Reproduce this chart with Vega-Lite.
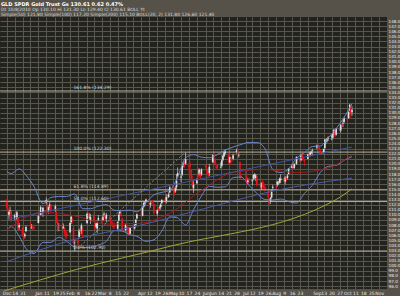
{
"$schema": "https://vega.github.io/schema/vega-lite/v6.json",
"width": 387, "height": 272,
"autosize": {"type": "none"},
"padding": {"left": 0, "top": 17, "right": 13, "bottom": 7},
"background": "#56524a",
"config": {"view": {"fill": "#23231d", "stroke": null},
  "axis": {"labelFont": "DejaVu Sans", "labelFontSize": 4.5, "labelColor": "#e8e8e8", "ticks": false, "domain": false, "gridColor": "#58574e", "gridWidth": 1, "gridOpacity": 1, "title": null, "labelPadding": 1, "labelOverlap": false}},
"title": {"text": "GLD SPDR Gold Trust Gs  130.61  0.62  0.47%", "subtitle": ["Dt 10/8/2010 Op 130.10 Hi 131.30 Lo 129.40 Cl 130.61                  BOLL      Yt", "Simple(50) 121.80  Simple(100) 117.20  Simple(200) 115.10  BOLL(20, 2) 131.80 126.60 121.40"], "anchor": "start", "frame": "group", "offset": 0.5, "fontSize": 5, "subtitleFontSize": 4.5, "color": "#ffffff", "subtitleColor": "#dcdcdc", "font": "DejaVu Sans", "subtitleFont": "DejaVu Sans", "fontWeight": "bold", "subtitlePadding": 0.5, "subtitleLineHeight": 4.8, "dx": 1},
"datasets": {
"ohlc": [
{"d":"2009-12-07","o":112.6,"h":113.2,"l":111.0,"c":111.4},
{"d":"2009-12-08","o":111.3,"h":111.7,"l":109.6,"c":110.1},
{"d":"2009-12-09","o":110.0,"h":110.9,"l":109.2,"c":110.6},
{"d":"2009-12-10","o":110.8,"h":111.6,"l":110.2,"c":110.9},
{"d":"2009-12-11","o":110.7,"h":110.9,"l":108.6,"c":109.0},
{"d":"2009-12-14","o":109.2,"h":110.2,"l":108.9,"c":109.9},
{"d":"2009-12-15","o":109.5,"h":110.0,"l":108.2,"c":108.7},
{"d":"2009-12-16","o":109.2,"h":110.8,"l":109.0,"c":110.5},
{"d":"2009-12-17","o":109.4,"h":109.6,"l":106.8,"c":107.1},
{"d":"2009-12-18","o":107.5,"h":108.4,"l":107.0,"c":108.0},
{"d":"2009-12-21","o":107.5,"h":107.7,"l":105.7,"c":105.9},
{"d":"2009-12-22","o":105.8,"h":106.0,"l":104.7,"c":105.3},
{"d":"2009-12-23","o":105.8,"h":106.5,"l":105.4,"c":106.2},
{"d":"2009-12-24","o":106.8,"h":107.9,"l":106.6,"c":107.6},
{"d":"2009-12-28","o":108.0,"h":108.8,"l":107.6,"c":107.8},
{"d":"2009-12-29","o":107.5,"h":108.2,"l":107.2,"c":107.6},
{"d":"2009-12-30","o":107.7,"h":108.0,"l":107.0,"c":107.3},
{"d":"2009-12-31","o":107.6,"h":108.1,"l":107.0,"c":107.3},
{"d":"2010-01-04","o":108.4,"h":110.0,"l":108.3,"c":109.8},
{"d":"2010-01-05","o":110.1,"h":110.6,"l":109.3,"c":109.7},
{"d":"2010-01-06","o":110.0,"h":111.8,"l":109.9,"c":111.5},
{"d":"2010-01-07","o":111.2,"h":111.4,"l":110.1,"c":110.8},
{"d":"2010-01-08","o":110.4,"h":111.6,"l":109.6,"c":111.4},
{"d":"2010-01-11","o":112.4,"h":113.4,"l":112.0,"c":112.9},
{"d":"2010-01-12","o":112.2,"h":112.4,"l":110.4,"c":110.5},
{"d":"2010-01-13","o":110.8,"h":111.8,"l":110.2,"c":111.5},
{"d":"2010-01-14","o":111.7,"h":112.5,"l":111.3,"c":112.0},
{"d":"2010-01-15","o":111.9,"h":112.1,"l":110.2,"c":110.9},
{"d":"2010-01-19","o":111.0,"h":112.0,"l":110.6,"c":111.7},
{"d":"2010-01-20","o":110.6,"h":110.8,"l":108.3,"c":108.6},
{"d":"2010-01-21","o":108.6,"h":109.4,"l":106.6,"c":107.0},
{"d":"2010-01-22","o":107.5,"h":108.4,"l":106.8,"c":107.5},
{"d":"2010-01-25","o":107.6,"h":108.4,"l":107.2,"c":107.5},
{"d":"2010-01-26","o":107.3,"h":108.3,"l":107.2,"c":107.7},
{"d":"2010-01-27","o":107.5,"h":107.6,"l":105.8,"c":106.4},
{"d":"2010-01-28","o":106.2,"h":107.0,"l":105.2,"c":105.7},
{"d":"2010-01-29","o":106.5,"h":106.9,"l":105.3,"c":106.0},
{"d":"2010-02-01","o":106.6,"h":108.6,"l":106.4,"c":108.4},
{"d":"2010-02-02","o":108.6,"h":109.9,"l":108.2,"c":109.6},
{"d":"2010-02-03","o":109.2,"h":109.6,"l":108.3,"c":108.9},
{"d":"2010-02-04","o":107.5,"h":107.8,"l":104.1,"c":104.4},
{"d":"2010-02-05","o":104.5,"h":105.2,"l":102.9,"c":104.6},
{"d":"2010-02-08","o":104.9,"h":105.5,"l":104.0,"c":104.4},
{"d":"2010-02-09","o":105.7,"h":107.3,"l":105.5,"c":106.9},
{"d":"2010-02-10","o":106.8,"h":107.0,"l":106.0,"c":106.6},
{"d":"2010-02-11","o":106.8,"h":108.3,"l":106.2,"c":107.9},
{"d":"2010-02-12","o":107.3,"h":107.6,"l":105.6,"c":106.7},
{"d":"2010-02-16","o":108.4,"h":110.4,"l":108.2,"c":110.2},
{"d":"2010-02-17","o":109.9,"h":110.6,"l":109.4,"c":109.8},
{"d":"2010-02-18","o":109.5,"h":110.3,"l":109.1,"c":109.6},
{"d":"2010-02-19","o":108.9,"h":110.2,"l":108.2,"c":109.6},
{"d":"2010-02-22","o":109.9,"h":110.4,"l":108.7,"c":108.9},
{"d":"2010-02-23","o":108.4,"h":108.8,"l":106.9,"c":107.3},
{"d":"2010-02-24","o":107.6,"h":108.6,"l":107.3,"c":108.3},
{"d":"2010-02-25","o":107.3,"h":108.7,"l":106.4,"c":108.5},
{"d":"2010-02-26","o":109.0,"h":110.0,"l":108.8,"c":109.4},
{"d":"2010-03-01","o":109.4,"h":109.8,"l":108.3,"c":108.5},
{"d":"2010-03-02","o":109.0,"h":110.0,"l":108.8,"c":109.5},
{"d":"2010-03-03","o":110.0,"h":110.6,"l":109.6,"c":110.2},
{"d":"2010-03-04","o":110.0,"h":110.0,"l":108.8,"c":109.3},
{"d":"2010-03-05","o":109.2,"h":110.4,"l":108.5,"c":110.0},
{"d":"2010-03-08","o":109.7,"h":109.9,"l":108.6,"c":108.8},
{"d":"2010-03-09","o":108.7,"h":109.1,"l":107.9,"c":108.4},
{"d":"2010-03-10","o":108.6,"h":108.9,"l":107.8,"c":108.3},
{"d":"2010-03-11","o":107.9,"h":108.4,"l":107.2,"c":107.6},
{"d":"2010-03-12","o":107.8,"h":108.5,"l":107.3,"c":107.6},
{"d":"2010-03-15","o":107.3,"h":108.7,"l":107.0,"c":108.6},
{"d":"2010-03-16","o":108.9,"h":110.2,"l":108.7,"c":110.0},
{"d":"2010-03-17","o":110.2,"h":110.8,"l":109.9,"c":110.6},
{"d":"2010-03-18","o":110.4,"h":110.6,"l":109.6,"c":110.0},
{"d":"2010-03-19","o":109.3,"h":109.5,"l":106.9,"c":107.2},
{"d":"2010-03-22","o":107.0,"h":108.3,"l":106.7,"c":108.0},
{"d":"2010-03-23","o":108.0,"h":108.3,"l":107.5,"c":107.9},
{"d":"2010-03-24","o":107.6,"h":107.8,"l":106.1,"c":106.5},
{"d":"2010-03-25","o":106.9,"h":107.6,"l":105.9,"c":106.0},
{"d":"2010-03-26","o":106.3,"h":107.6,"l":106.2,"c":107.4},
{"d":"2010-03-29","o":107.5,"h":107.9,"l":107.0,"c":107.2},
{"d":"2010-03-30","o":107.3,"h":108.2,"l":107.1,"c":107.9},
{"d":"2010-03-31","o":108.0,"h":109.2,"l":107.9,"c":109.0},
{"d":"2010-04-01","o":109.3,"h":110.3,"l":109.1,"c":110.1},
{"d":"2010-04-05","o":110.5,"h":110.7,"l":109.4,"c":110.0},
{"d":"2010-04-06","o":109.8,"h":111.6,"l":109.7,"c":111.4},
{"d":"2010-04-07","o":111.6,"h":112.5,"l":111.3,"c":112.3},
{"d":"2010-04-08","o":112.0,"h":112.7,"l":111.7,"c":112.4},
{"d":"2010-04-09","o":112.6,"h":113.2,"l":112.3,"c":113.0},
{"d":"2010-04-12","o":112.8,"h":113.0,"l":111.8,"c":112.0},
{"d":"2010-04-13","o":112.0,"h":112.6,"l":111.4,"c":112.3},
{"d":"2010-04-14","o":112.6,"h":112.9,"l":112.1,"c":112.5},
{"d":"2010-04-15","o":112.7,"h":112.9,"l":112.0,"c":112.4},
{"d":"2010-04-16","o":112.1,"h":112.3,"l":109.9,"c":110.3},
{"d":"2010-04-19","o":110.2,"h":111.1,"l":109.8,"c":110.9},
{"d":"2010-04-20","o":111.3,"h":111.5,"l":110.6,"c":111.0},
{"d":"2010-04-21","o":111.4,"h":111.8,"l":111.0,"c":111.5},
{"d":"2010-04-22","o":111.5,"h":112.3,"l":111.0,"c":112.0},
{"d":"2010-04-23","o":112.3,"h":113.1,"l":112.0,"c":112.9},
{"d":"2010-04-26","o":113.1,"h":113.4,"l":112.3,"c":112.7},
{"d":"2010-04-27","o":112.7,"h":114.0,"l":112.2,"c":113.5},
{"d":"2010-04-28","o":113.8,"h":114.1,"l":113.0,"c":113.5},
{"d":"2010-04-29","o":113.5,"h":114.4,"l":113.3,"c":114.0},
{"d":"2010-04-30","o":114.4,"h":115.6,"l":114.2,"c":115.4},
{"d":"2010-05-03","o":115.7,"h":116.3,"l":115.1,"c":115.6},
{"d":"2010-05-04","o":115.2,"h":115.5,"l":113.7,"c":114.2},
{"d":"2010-05-05","o":114.6,"h":115.6,"l":114.3,"c":115.2},
{"d":"2010-05-06","o":115.4,"h":118.0,"l":114.9,"c":116.7},
{"d":"2010-05-07","o":117.6,"h":119.3,"l":117.2,"c":118.2},
{"d":"2010-05-10","o":117.3,"h":118.1,"l":116.4,"c":117.5},
{"d":"2010-05-11","o":117.9,"h":119.8,"l":117.6,"c":119.6},
{"d":"2010-05-12","o":119.8,"h":120.4,"l":119.3,"c":120.1},
{"d":"2010-05-13","o":120.3,"h":120.5,"l":119.2,"c":119.6},
{"d":"2010-05-14","o":120.0,"h":122.3,"l":119.8,"c":120.9},
{"d":"2010-05-17","o":119.6,"h":120.2,"l":118.2,"c":119.4},
{"d":"2010-05-18","o":119.8,"h":120.5,"l":118.9,"c":119.5},
{"d":"2010-05-19","o":118.9,"h":119.0,"l":116.8,"c":117.1},
{"d":"2010-05-20","o":116.7,"h":117.7,"l":115.3,"c":115.6},
{"d":"2010-05-21","o":115.2,"h":116.6,"l":114.3,"c":115.9},
{"d":"2010-05-24","o":116.2,"h":117.2,"l":116.0,"c":116.8},
{"d":"2010-05-25","o":118.1,"h":119.3,"l":116.8,"c":117.4},
{"d":"2010-05-26","o":117.9,"h":119.1,"l":117.6,"c":118.9},
{"d":"2010-05-27","o":118.3,"h":118.4,"l":116.8,"c":117.2},
{"d":"2010-05-28","o":117.9,"h":119.1,"l":117.6,"c":118.9},
{"d":"2010-06-01","o":119.8,"h":120.0,"l":118.6,"c":119.3},
{"d":"2010-06-02","o":119.0,"h":119.2,"l":117.8,"c":118.2},
{"d":"2010-06-03","o":118.3,"h":118.6,"l":117.3,"c":117.8},
{"d":"2010-06-04","o":118.2,"h":120.0,"l":117.6,"c":119.4},
{"d":"2010-06-07","o":120.3,"h":121.9,"l":120.2,"c":121.7},
{"d":"2010-06-08","o":121.9,"h":122.2,"l":121.0,"c":121.8},
{"d":"2010-06-09","o":121.0,"h":121.2,"l":119.6,"c":119.9},
{"d":"2010-06-10","o":119.5,"h":120.1,"l":118.8,"c":119.2},
{"d":"2010-06-11","o":119.8,"h":120.0,"l":118.9,"c":119.1},
{"d":"2010-06-14","o":119.3,"h":120.3,"l":119.1,"c":119.4},
{"d":"2010-06-15","o":119.6,"h":120.9,"l":119.3,"c":120.7},
{"d":"2010-06-16","o":120.8,"h":121.8,"l":120.5,"c":121.6},
{"d":"2010-06-17","o":121.5,"h":122.4,"l":121.3,"c":122.2},
{"d":"2010-06-18","o":122.1,"h":122.8,"l":121.8,"c":122.4},
{"d":"2010-06-21","o":121.8,"h":122.2,"l":119.9,"c":120.3},
{"d":"2010-06-22","o":120.3,"h":121.5,"l":120.1,"c":121.3},
{"d":"2010-06-23","o":121.0,"h":121.1,"l":119.8,"c":120.6},
{"d":"2010-06-24","o":121.0,"h":121.4,"l":120.3,"c":120.8},
{"d":"2010-06-25","o":121.0,"h":122.0,"l":120.7,"c":121.7},
{"d":"2010-06-28","o":122.3,"h":123.0,"l":122.0,"c":122.6},
{"d":"2010-06-29","o":122.5,"h":123.2,"l":121.5,"c":121.9},
{"d":"2010-06-30","o":121.6,"h":122.3,"l":121.2,"c":121.7},
{"d":"2010-07-01","o":120.3,"h":120.5,"l":116.9,"c":117.2},
{"d":"2010-07-02","o":117.6,"h":118.0,"l":117.1,"c":117.4},
{"d":"2010-07-06","o":118.0,"h":118.6,"l":117.0,"c":117.9},
{"d":"2010-07-07","o":117.5,"h":117.6,"l":115.7,"c":116.0},
{"d":"2010-07-08","o":116.4,"h":117.2,"l":116.0,"c":116.8},
{"d":"2010-07-09","o":117.0,"h":117.3,"l":116.2,"c":116.8},
{"d":"2010-07-12","o":116.6,"h":117.0,"l":115.8,"c":116.8},
{"d":"2010-07-13","o":117.1,"h":118.0,"l":116.8,"c":117.8},
{"d":"2010-07-14","o":117.5,"h":118.2,"l":117.0,"c":117.9},
{"d":"2010-07-15","o":117.2,"h":118.0,"l":116.6,"c":117.7},
{"d":"2010-07-16","o":117.5,"h":117.6,"l":115.5,"c":115.8},
{"d":"2010-07-19","o":115.8,"h":116.3,"l":115.2,"c":115.7},
{"d":"2010-07-20","o":115.4,"h":116.4,"l":114.9,"c":116.2},
{"d":"2010-07-21","o":116.5,"h":116.8,"l":115.0,"c":115.4},
{"d":"2010-07-22","o":116.0,"h":116.5,"l":115.1,"c":115.3},
{"d":"2010-07-23","o":115.5,"h":115.9,"l":114.6,"c":115.1},
{"d":"2010-07-26","o":114.5,"h":114.9,"l":113.1,"c":113.4},
{"d":"2010-07-27","o":112.9,"h":113.0,"l":111.8,"c":112.2},
{"d":"2010-07-28","o":112.6,"h":113.5,"l":112.1,"c":113.3},
{"d":"2010-07-29","o":113.4,"h":115.0,"l":113.2,"c":114.5},
{"d":"2010-07-30","o":115.3,"h":115.9,"l":114.8,"c":115.5},
{"d":"2010-08-02","o":115.6,"h":116.0,"l":115.0,"c":115.5},
{"d":"2010-08-03","o":115.9,"h":116.7,"l":115.5,"c":116.5},
{"d":"2010-08-04","o":116.2,"h":116.6,"l":115.8,"c":116.3},
{"d":"2010-08-05","o":116.3,"h":117.3,"l":116.1,"c":117.1},
{"d":"2010-08-06","o":116.8,"h":118.0,"l":116.2,"c":117.1},
{"d":"2010-08-09","o":117.2,"h":117.4,"l":116.3,"c":116.6},
{"d":"2010-08-10","o":116.5,"h":117.6,"l":115.9,"c":117.3},
{"d":"2010-08-11","o":117.3,"h":117.4,"l":116.5,"c":116.9},
{"d":"2010-08-12","o":117.2,"h":118.0,"l":116.9,"c":117.7},
{"d":"2010-08-13","o":118.0,"h":119.2,"l":117.9,"c":119.1},
{"d":"2010-08-16","o":119.2,"h":120.0,"l":119.1,"c":119.6},
{"d":"2010-08-17","o":119.7,"h":120.0,"l":118.8,"c":119.3},
{"d":"2010-08-18","o":119.2,"h":120.1,"l":119.0,"c":120.0},
{"d":"2010-08-19","o":120.1,"h":120.3,"l":119.6,"c":120.0},
{"d":"2010-08-20","o":120.0,"h":121.4,"l":119.8,"c":121.4},
{"d":"2010-08-23","o":121.2,"h":121.5,"l":120.2,"c":120.5},
{"d":"2010-08-24","o":120.7,"h":122.0,"l":120.5,"c":121.8},
{"d":"2010-08-25","o":121.9,"h":122.5,"l":120.9,"c":121.0},
{"d":"2010-08-26","o":121.1,"h":121.5,"l":120.6,"c":120.9},
{"d":"2010-08-27","o":120.8,"h":121.0,"l":119.6,"c":120.6},
{"d":"2010-08-30","o":121.0,"h":122.0,"l":120.9,"c":121.9},
{"d":"2010-08-31","o":121.8,"h":122.2,"l":121.3,"c":121.7},
{"d":"2010-09-01","o":121.8,"h":122.5,"l":121.4,"c":122.2},
{"d":"2010-09-02","o":122.1,"h":122.6,"l":121.9,"c":122.4},
{"d":"2010-09-03","o":122.6,"h":123.0,"l":121.8,"c":122.7},
{"d":"2010-09-07","o":123.2,"h":123.8,"l":122.9,"c":123.6},
{"d":"2010-09-08","o":123.6,"h":124.0,"l":123.0,"c":123.5},
{"d":"2010-09-09","o":123.2,"h":123.3,"l":122.2,"c":122.8},
{"d":"2010-09-10","o":122.6,"h":122.9,"l":121.8,"c":121.9},
{"d":"2010-09-13","o":122.3,"h":123.0,"l":122.0,"c":122.9},
{"d":"2010-09-14","o":123.1,"h":124.9,"l":122.9,"c":124.7},
{"d":"2010-09-15","o":124.4,"h":124.9,"l":124.0,"c":124.6},
{"d":"2010-09-16","o":124.6,"h":125.1,"l":124.2,"c":124.9},
{"d":"2010-09-17","o":125.0,"h":125.4,"l":124.5,"c":125.2},
{"d":"2010-09-20","o":125.3,"h":125.7,"l":124.6,"c":125.4},
{"d":"2010-09-21","o":125.1,"h":126.0,"l":124.8,"c":125.9},
{"d":"2010-09-22","o":126.0,"h":126.8,"l":125.7,"c":126.7},
{"d":"2010-09-23","o":126.6,"h":126.9,"l":125.2,"c":125.4},
{"d":"2010-09-24","o":125.7,"h":127.0,"l":125.5,"c":126.9},
{"d":"2010-09-27","o":126.9,"h":127.2,"l":126.4,"c":126.7},
{"d":"2010-09-28","o":126.5,"h":127.8,"l":126.1,"c":127.6},
{"d":"2010-09-29","o":127.8,"h":128.0,"l":127.1,"c":127.6},
{"d":"2010-09-30","o":127.8,"h":128.7,"l":127.2,"c":127.9},
{"d":"2010-10-01","o":128.2,"h":129.2,"l":128.0,"c":128.9},
{"d":"2010-10-04","o":128.7,"h":128.8,"l":127.9,"c":128.5},
{"d":"2010-10-05","o":129.0,"h":130.3,"l":128.8,"c":130.2},
{"d":"2010-10-06","o":130.5,"h":131.7,"l":130.3,"c":131.6},
{"d":"2010-10-07","o":131.4,"h":131.6,"l":128.8,"c":129.9},
{"d":"2010-10-08","o":130.1,"h":131.3,"l":129.4,"c":130.61}
],
"lines": [
{"s":"bbU","d":"2009-12-07","v":118.5},{"s":"bbU","d":"2009-12-11","v":118.1},{"s":"bbU","d":"2009-12-18","v":119.0},{"s":"bbU","d":"2009-12-24","v":117.8},{"s":"bbU","d":"2009-12-31","v":115.6},{"s":"bbU","d":"2010-01-08","v":112.2},{"s":"bbU","d":"2010-01-15","v":113.4},{"s":"bbU","d":"2010-01-22","v":113.6},{"s":"bbU","d":"2010-01-29","v":113.6},{"s":"bbU","d":"2010-02-05","v":114.1},{"s":"bbU","d":"2010-02-12","v":111.2},{"s":"bbU","d":"2010-02-19","v":111.2},{"s":"bbU","d":"2010-02-26","v":111.7},{"s":"bbU","d":"2010-03-05","v":112.0},{"s":"bbU","d":"2010-03-12","v":110.9},{"s":"bbU","d":"2010-03-19","v":110.8},{"s":"bbU","d":"2010-03-26","v":110.9},{"s":"bbU","d":"2010-04-01","v":110.6},{"s":"bbU","d":"2010-04-09","v":112.4},{"s":"bbU","d":"2010-04-16","v":113.9},{"s":"bbU","d":"2010-04-23","v":114.4},{"s":"bbU","d":"2010-04-30","v":114.8},{"s":"bbU","d":"2010-05-07","v":117.4},{"s":"bbU","d":"2010-05-14","v":121.2},{"s":"bbU","d":"2010-05-21","v":121.8},{"s":"bbU","d":"2010-05-28","v":121.3},{"s":"bbU","d":"2010-06-04","v":121.2},{"s":"bbU","d":"2010-06-11","v":121.8},{"s":"bbU","d":"2010-06-18","v":122.7},{"s":"bbU","d":"2010-06-25","v":123.3},{"s":"bbU","d":"2010-07-02","v":123.8},{"s":"bbU","d":"2010-07-09","v":124.2},{"s":"bbU","d":"2010-07-16","v":124.2},{"s":"bbU","d":"2010-07-23","v":123.0},{"s":"bbU","d":"2010-07-30","v":118.9},{"s":"bbU","d":"2010-08-06","v":118.3},{"s":"bbU","d":"2010-08-13","v":119.0},{"s":"bbU","d":"2010-08-20","v":121.1},{"s":"bbU","d":"2010-08-27","v":122.2},{"s":"bbU","d":"2010-09-03","v":123.4},{"s":"bbU","d":"2010-09-10","v":123.5},{"s":"bbU","d":"2010-09-17","v":125.1},{"s":"bbU","d":"2010-09-24","v":126.9},{"s":"bbU","d":"2010-10-01","v":129.1},{"s":"bbU","d":"2010-10-08","v":131.8},
{"s":"bbL","d":"2009-12-07","v":107.0},{"s":"bbL","d":"2009-12-11","v":107.7},{"s":"bbL","d":"2009-12-18","v":105.8},{"s":"bbL","d":"2009-12-24","v":103.4},{"s":"bbL","d":"2009-12-31","v":102.4},{"s":"bbL","d":"2010-01-08","v":104.6},{"s":"bbL","d":"2010-01-15","v":104.6},{"s":"bbL","d":"2010-01-22","v":105.6},{"s":"bbL","d":"2010-01-29","v":104.8},{"s":"bbL","d":"2010-02-05","v":103.7},{"s":"bbL","d":"2010-02-12","v":103.6},{"s":"bbL","d":"2010-02-19","v":103.6},{"s":"bbL","d":"2010-02-26","v":104.1},{"s":"bbL","d":"2010-03-05","v":104.8},{"s":"bbL","d":"2010-03-12","v":106.9},{"s":"bbL","d":"2010-03-19","v":106.8},{"s":"bbL","d":"2010-03-26","v":106.1},{"s":"bbL","d":"2010-04-01","v":105.8},{"s":"bbL","d":"2010-04-09","v":104.8},{"s":"bbL","d":"2010-04-16","v":105.1},{"s":"bbL","d":"2010-04-23","v":106.8},{"s":"bbL","d":"2010-04-30","v":109.6},{"s":"bbL","d":"2010-05-07","v":109.4},{"s":"bbL","d":"2010-05-14","v":108.0},{"s":"bbL","d":"2010-05-21","v":111.0},{"s":"bbL","d":"2010-05-28","v":113.7},{"s":"bbL","d":"2010-06-04","v":115.6},{"s":"bbL","d":"2010-06-11","v":115.4},{"s":"bbL","d":"2010-06-18","v":115.5},{"s":"bbL","d":"2010-06-25","v":117.3},{"s":"bbL","d":"2010-07-02","v":117.4},{"s":"bbL","d":"2010-07-09","v":115.8},{"s":"bbL","d":"2010-07-16","v":114.2},{"s":"bbL","d":"2010-07-23","v":113.0},{"s":"bbL","d":"2010-07-30","v":112.9},{"s":"bbL","d":"2010-08-06","v":113.1},{"s":"bbL","d":"2010-08-13","v":112.6},{"s":"bbL","d":"2010-08-20","v":112.3},{"s":"bbL","d":"2010-08-27","v":114.2},{"s":"bbL","d":"2010-09-03","v":115.8},{"s":"bbL","d":"2010-09-10","v":118.3},{"s":"bbL","d":"2010-09-17","v":119.5},{"s":"bbL","d":"2010-09-24","v":119.7},{"s":"bbL","d":"2010-10-01","v":120.7},{"s":"bbL","d":"2010-10-08","v":121.4},
{"s":"ma50","d":"2009-12-07","v":107.0},{"s":"ma50","d":"2010-01-08","v":110.5},{"s":"ma50","d":"2010-02-05","v":109.8},{"s":"ma50","d":"2010-03-05","v":108.2},{"s":"ma50","d":"2010-04-01","v":108.3},{"s":"ma50","d":"2010-04-30","v":110.3},{"s":"ma50","d":"2010-05-28","v":114.8},{"s":"ma50","d":"2010-06-25","v":118.3},{"s":"ma50","d":"2010-07-23","v":118.9},{"s":"ma50","d":"2010-08-20","v":118.3},{"s":"ma50","d":"2010-09-17","v":119.2},{"s":"ma50","d":"2010-10-08","v":121.8},
{"s":"ma100","d":"2009-12-07","v":100.8},{"s":"ma100","d":"2010-02-05","v":105.2},{"s":"ma100","d":"2010-04-01","v":107.8},{"s":"ma100","d":"2010-06-01","v":111.3},{"s":"ma100","d":"2010-08-02","v":114.8},{"s":"ma100","d":"2010-10-08","v":117.2},
{"s":"tl","d":"2009-12-07","v":109.0},{"s":"tl","d":"2010-10-08","v":123.3},
{"s":"ma200","d":"2009-12-05","v":95.1},{"s":"ma200","d":"2010-02-07","v":99.3},{"s":"ma200","d":"2010-04-28","v":103.7},{"s":"ma200","d":"2010-09-24","v":113.0},{"s":"ma200","d":"2010-10-08","v":115.1}
],
"fib": [
{"v":102.9,"t":"0.0% (102.90)"},{"v":112.6,"t":"50.0% (112.60)"},{"v":114.89,"t":"61.8% (114.89)"},{"v":122.3,"t":"100.0% (122.30)"},{"v":134.29,"t":"161.8% (134.29)"}
],
"diag": [{"d":"2010-02-05","v":102.9},{"d":"2010-05-14","v":122.3}]
},
"layer": [
{"data": {"name": "ohlc"}, "mark": {"type": "rule", "strokeWidth": 0.8},
 "encoding": {"x": {"field": "d", "type": "temporal", "scale": {"type": "utc", "domain": [{"year": 2009, "month": 12, "date": 5, "hours": 12, "utc": true}, {"year": 2010, "month": 11, "date": 3, "hours": 12, "utc": true}]},
   "axis": {"tickCount": 500, "values": [
    {"year":2009,"month":12,"date":7,"utc":true},{"year":2009,"month":12,"date":14,"utc":true},{"year":2009,"month":12,"date":21,"utc":true},{"year":2009,"month":12,"date":28,"utc":true},
    {"year":2010,"month":1,"date":4,"utc":true},{"year":2010,"month":1,"date":11,"utc":true},{"year":2010,"month":1,"date":19,"utc":true},{"year":2010,"month":1,"date":25,"utc":true},
    {"year":2010,"month":2,"date":1,"utc":true},{"year":2010,"month":2,"date":8,"utc":true},{"year":2010,"month":2,"date":16,"utc":true},{"year":2010,"month":2,"date":22,"utc":true},
    {"year":2010,"month":3,"date":1,"utc":true},{"year":2010,"month":3,"date":8,"utc":true},{"year":2010,"month":3,"date":15,"utc":true},{"year":2010,"month":3,"date":22,"utc":true},{"year":2010,"month":3,"date":29,"utc":true},
    {"year":2010,"month":4,"date":5,"utc":true},{"year":2010,"month":4,"date":12,"utc":true},{"year":2010,"month":4,"date":19,"utc":true},{"year":2010,"month":4,"date":26,"utc":true},
    {"year":2010,"month":5,"date":3,"utc":true},{"year":2010,"month":5,"date":10,"utc":true},{"year":2010,"month":5,"date":17,"utc":true},{"year":2010,"month":5,"date":24,"utc":true},
    {"year":2010,"month":6,"date":1,"utc":true},{"year":2010,"month":6,"date":7,"utc":true},{"year":2010,"month":6,"date":14,"utc":true},{"year":2010,"month":6,"date":21,"utc":true},{"year":2010,"month":6,"date":28,"utc":true},
    {"year":2010,"month":7,"date":6,"utc":true},{"year":2010,"month":7,"date":12,"utc":true},{"year":2010,"month":7,"date":19,"utc":true},{"year":2010,"month":7,"date":26,"utc":true},
    {"year":2010,"month":8,"date":2,"utc":true},{"year":2010,"month":8,"date":9,"utc":true},{"year":2010,"month":8,"date":16,"utc":true},{"year":2010,"month":8,"date":23,"utc":true},{"year":2010,"month":8,"date":30,"utc":true},
    {"year":2010,"month":9,"date":7,"utc":true},{"year":2010,"month":9,"date":13,"utc":true},{"year":2010,"month":9,"date":20,"utc":true},{"year":2010,"month":9,"date":27,"utc":true},
    {"year":2010,"month":10,"date":4,"utc":true},{"year":2010,"month":10,"date":11,"utc":true},{"year":2010,"month":10,"date":18,"utc":true},{"year":2010,"month":10,"date":25,"utc":true},
    {"year":2010,"month":11,"date":1,"utc":true}],
    "labelExpr": "(utcmonth(datum.value) == 11 && utcdate(datum.value) == 28) || (utcmonth(datum.value) == 2 && utcdate(datum.value) == 29) || (utcmonth(datum.value) == 7 && utcdate(datum.value) == 30) ? '' : utcdate(datum.value) <= 7 ? utcFormat(datum.value, '%b') : utcFormat(datum.value, '%-d')", "labelOverlap": false, "labelFlush": 5, "labelPadding": 1}},
  "y": {"field": "l", "type": "quantitative", "scale": {"domain": [95.45, 148.8], "nice": false, "zero": false},
   "axis": {"orient": "right", "tickCount": 500, "values": [96,97,98,99,100,101,102,103,104,105,106,107,108,109,110,111,112,113,114,115,116,117,118,119,120,121,122,123,124,125,126,127,128,129,130,131,132,133,134,135,136,137,138,139,140,141,142,143,144,145,146,147,148], "labelOverlap": false, "labelPadding": 1, "labelFontSize": 4.2}},
  "y2": {"field": "h"},
  "color": {"condition": {"test": "datum.c < datum.o", "value": "#d8141c"}, "value": "#bdbdbd"}}},
{"data": {"name": "fib"}, "mark": {"type": "rule", "color": "#b9b09a", "strokeWidth": 1},
 "encoding": {"y": {"field": "v", "type": "quantitative"}}},
{"data": {"name": "ohlc"}, "mark": {"type": "bar", "size": 1.6},
 "encoding": {"x": {"field": "d", "type": "temporal"}, "y": {"field": "o", "type": "quantitative"}, "y2": {"field": "c"},
  "color": {"condition": {"test": "datum.c < datum.o", "value": "#e8141c"}, "value": "#e0e0e0"}}},
{"data": {"name": "lines"}, "mark": {"type": "line", "strokeWidth": 1, "interpolate": "monotone"},
 "encoding": {"x": {"field": "d", "type": "temporal"}, "y": {"field": "v", "type": "quantitative"},
  "color": {"field": "s", "type": "nominal", "legend": null, "scale": {"domain": ["bbU","bbL","ma50","ma100","tl","ma200"], "range": ["#6a84cc","#6a84cc","#a01a1c","#4a5aa8","#3f52a0","#a0a634"]}}}},
{"data": {"name": "diag"}, "mark": {"type": "line", "color": "#8a8a80", "strokeWidth": 1, "strokeDash": [2, 2]},
 "encoding": {"x": {"field": "d", "type": "temporal"}, "y": {"field": "v", "type": "quantitative"}}},
{"data": {"name": "fib"}, "mark": {"type": "text", "align": "left", "baseline": "bottom", "dy": -1, "fontSize": 4.5, "font": "DejaVu Sans", "color": "#d8d8d8"},
 "encoding": {"x": {"datum": {"year": 2010, "month": 2, "date": 4, "utc": true}, "type": "temporal"}, "y": {"field": "v", "type": "quantitative"}, "text": {"field": "t"}}}
]
}
